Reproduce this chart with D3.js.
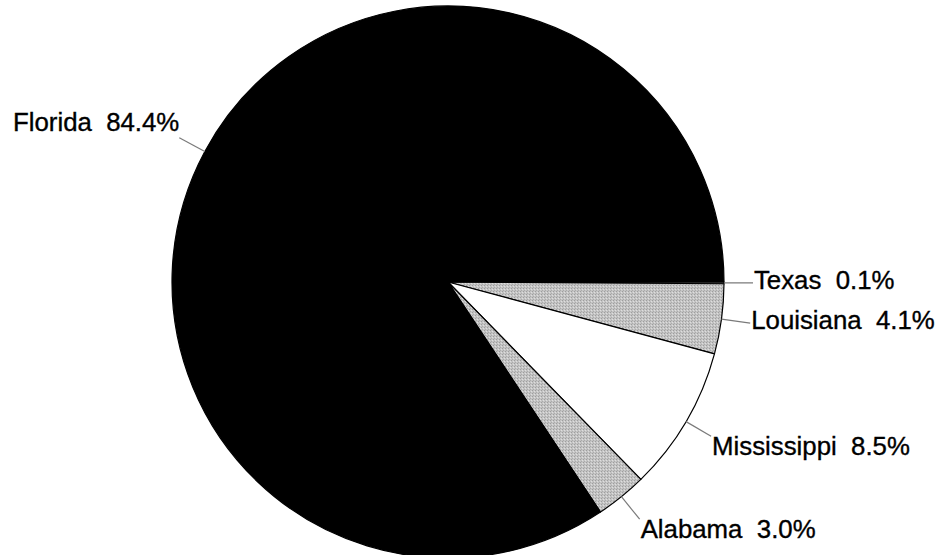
<!DOCTYPE html>
<html>
<head>
<meta charset="utf-8">
<script src="https://cdn.jsdelivr.net/npm/d3@7"></script>
<style>
  html, body { margin: 0; padding: 0; background: #fff; }
  svg { display: block; }
  text { font-family: "Liberation Sans", Arial, Helvetica, sans-serif; white-space: pre; }
</style>
</head>
<body>
<svg id="chart" width="939" height="555"></svg>
<script>
const categories = ["Texas", "Louisiana", "Mississippi", "Alabama", "Florida"];
const values = [0.1, 4.1, 8.5, 3.0, 84.4];
const fills = ["#8a8a8a", "#c6c6c6", "#ffffff", "#c6c6c6", "#000000"];

const W = 939, H = 555;
const cx = 448, cy = 282, R = 276;

const svg = d3.select("#chart");
const defs = svg.append("defs");
// fine stipple texture for gray slices
const pat = defs.append("pattern").attr("id", "stip").attr("width", 3).attr("height", 3)
  .attr("patternUnits", "userSpaceOnUse");
pat.append("rect").attr("width", 3).attr("height", 3).attr("fill", "#c4c4c4");
pat.append("rect").attr("x", 0).attr("y", 0).attr("width", 1).attr("height", 1).attr("fill", "#9e9e9e");
pat.append("rect").attr("x", 2).attr("y", 1).attr("width", 1).attr("height", 1).attr("fill", "#dedede");
pat.append("rect").attr("x", 1).attr("y", 2).attr("width", 1).attr("height", 1).attr("fill", "#ababab");

const data = categories.map((c, i) => ({ name: c, value: values[i], fill: fills[i] }));

const pie = d3.pie().sort(null).value(d => d.value)
  .startAngle(Math.PI / 2).endAngle(Math.PI / 2 + 2 * Math.PI);
const arcs = pie(data);
const arc = d3.arc().innerRadius(0).outerRadius(R);

const g = svg.append("g").attr("transform", `translate(${cx},${cy})`);

g.selectAll("path.slice").data(arcs).join("path")
  .attr("class", "slice")
  .attr("d", arc)
  .attr("fill", d => d.data.fill === "#c6c6c6" ? "url(#stip)" : d.data.fill)
  .attr("stroke", "#000")
  .attr("stroke-width", 1.2)
  .attr("stroke-linejoin", "round");

// leaders and labels
const outerR = R * 1.105;
arcs.forEach(d => {
  const a = (d.startAngle + d.endAngle) / 2; // clockwise from 12 o'clock
  const sx = Math.sin(a), sy = -Math.cos(a);
  const x1 = sx * R, y1 = sy * R;
  const x2 = sx * outerR, y2 = sy * outerR;
  g.append("line")
    .attr("x1", x1).attr("y1", y1).attr("x2", x2).attr("y2", y2)
    .attr("stroke", "#7a7a7a").attr("stroke-width", 1.2);
  let anchor = sx >= 0 ? "start" : "end";
  let dx = sx >= 0 ? 1 : 0;
  let dy;
  if (Math.abs(sy) < 0.3) dy = "0.22em";
  else if (sy > 0) dy = "0.74em";
  else dy = "-0.28em";
  g.append("text")
    .attr("x", x2 + dx).attr("y", y2)
    .attr("dy", dy)
    .attr("text-anchor", anchor)
    .attr("font-size", 25.8)
    .attr("fill", "#000")
    .attr("stroke", "#000")
    .attr("stroke-width", 0.35)
    .text(`${d.data.name}  ${d.data.value.toFixed(1)}%`);
});
</script>
</body>
</html>
